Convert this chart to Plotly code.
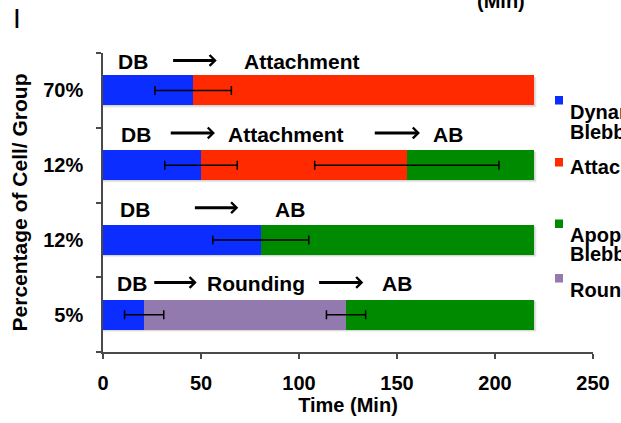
import numpy as np
import plotly.graph_objects as go

# ---- data -------------------------------------------------------------
group_labels = ["70%", "12%", "12%", "5%"]          # top to bottom
group_pos = [3, 2, 1, 0]

stage_names = ["Dynamic Blebbing", "Attachment", "Rounding", "Apoptotic Blebbing"]
stage_colors = ["#0b2dff", "#ff2a00", "#9279ae", "#008a00"]

# time spent in each stage (min); None where a group skips the stage
dynamic_blebbing = [46, 50, 80.5, 21]
attachment = [174, 105, None, None]
rounding = [None, None, None, 103]
apoptotic_blebbing = [None, 65, 139.5, 96]

# spread of the transition time at the end of each stage (min)
dynamic_blebbing_err = [19.5, 18.5, 24.5, 10]
attachment_err = [None, 47, None, None]
rounding_err = [None, None, None, 10]

# stage sequence written above every bar
flow_labels = [
    ["DB", "Attachment"],
    ["DB", "Attachment", "AB"],
    ["DB", "AB"],
    ["DB", "Rounding", "AB"],
]

x_ticks = [0, 50, 100, 150, 200, 250]

# ---- layout helpers ---------------------------------------------------
W, H = 621, 423
L, R, T, B = 103, 28, 53, 71
PW, PH = W - L - R, H - T - B
BAR_W = 0.4


def paper_x(px):
    return (px - L) / PW


def paper_y(py):
    return (H - B - py) / PH


FONT = "Liberation Sans, Arial, Helvetica, sans-serif"

fig = go.Figure()

stage_values = [dynamic_blebbing, attachment, rounding, apoptotic_blebbing]
for name, color, vals in zip(stage_names, stage_colors, stage_values):
    fig.add_trace(go.Bar(
        orientation="h", x=vals, y=group_pos, width=BAR_W, name=name,
        marker=dict(color=color, line=dict(width=0)), showlegend=False,
        hoverinfo="skip",
    ))

# error bars at the end of each stage, drawn above every bar
stage_errs = [dynamic_blebbing_err, attachment_err, rounding_err]
vals_arr = np.array([[np.nan if v is None else v for v in s] for s in stage_values])
cum = np.nancumsum(vals_arr, axis=0)
for i, errs in enumerate(stage_errs):
    xs, ys, es = [], [], []
    for g in range(len(group_pos)):
        if errs[g] is not None and stage_values[i][g] is not None:
            xs.append(cum[i, g])
            ys.append(group_pos[g])
            es.append(errs[g])
    fig.add_trace(go.Scatter(
        x=xs, y=ys, mode="markers", showlegend=False, hoverinfo="skip",
        marker=dict(size=1, color="rgba(0,0,0,0)"),
        error_x=dict(type="data", array=es, color="black", thickness=1.5, width=4.5),
    ))

shapes = []
# soft drop shadow behind every bar
totals = cum[-1]
for g, pos in enumerate(group_pos):
    for off, col in ((2.2, "#ececec"), (1.2, "#d6d6d6")):
        shapes.append(dict(
            type="rect", xref="x", yref="y", layer="below",
            x0=0, x1=totals[g] + off / 1.96,
            y0=pos - BAR_W / 2 - off / 74.75, y1=pos + BAR_W / 2 - off / 74.75,
            fillcolor=col, line=dict(width=0),
        ))

# stage sequence text and arrows above the bars
label_x = [
    [15.1, 101.5],
    [16.7, 93.3, 176.0],
    [16.5, 95.3],
    [14.9, 78.0, 149.8],
]
arrow_x = [
    [(35.0, 58.0)],
    [(33.8, 57.1), (137.9, 161.7)],
    [(46.1, 69.0)],
    [(25.4, 47.8), (109.5, 132.8)],
]
label_dy = [0.38, 0.41, 0.41, 0.41]

annotations = []
for g, pos in enumerate(group_pos):
    yv = pos + label_dy[g]
    for txt, xv in zip(flow_labels[g], label_x[g]):
        annotations.append(dict(
            x=xv, y=yv, xref="x", yref="y", text=txt, showarrow=False,
            xanchor="center", yanchor="middle",
            font=dict(family=FONT, size=21, color="black", weight="bold"),
        ))
    for x0, x1 in arrow_x[g]:
        annotations.append(dict(
            x=x1, y=yv + 0.02, ax=x0, ay=yv + 0.02, xref="x", yref="y",
            axref="x", ayref="y",
            text="", showarrow=True, arrowhead=4, arrowsize=0.7, arrowwidth=3,
            arrowcolor="black", standoff=0, startstandoff=0,
        ))

# key on the right-hand side
key_items = [
    (stage_colors[0], 96, ["Dynamic", "Blebbing"], [111.5, 131.5]),
    (stage_colors[1], 158, ["Attachment"], [167]),
    (stage_colors[3], 219.5, ["Apoptotic", "Blebbing"], [235.5, 253.5]),
    (stage_colors[2], 274, ["Rounding"], [290]),
]
for color, top, lines, centers in key_items:
    shapes.append(dict(
        type="rect", xref="paper", yref="paper",
        x0=paper_x(555), x1=paper_x(563), y0=paper_y(top + 8.5), y1=paper_y(top),
        fillcolor=color, line=dict(width=0), layer="above",
    ))
    for line, cy in zip(lines, centers):
        annotations.append(dict(
            x=paper_x(568), y=paper_y(cy), xref="paper", yref="paper", text=line,
            showarrow=False, xanchor="left", yanchor="middle",
            font=dict(family=FONT, size=20, color="black", weight="bold"),
        ))

# panel letter and neighbouring header fragment
annotations.append(dict(
    x=paper_x(17), y=paper_y(18), xref="paper", yref="paper", text="I",
    showarrow=False, xanchor="center", yanchor="middle",
    font=dict(family=FONT, size=28, color="black"),
))
annotations.append(dict(
    x=paper_x(501), y=paper_y(1), xref="paper", yref="paper", text="(Min)",
    showarrow=False, xanchor="center", yanchor="middle",
    font=dict(family=FONT, size=20, color="black", weight="bold"),
))

fig.update_layout(
    width=W, height=H,
    margin=dict(l=L, r=R, t=T, b=B, pad=0),
    barmode="stack",
    paper_bgcolor="white", plot_bgcolor="white",
    font=dict(family=FONT, color="black"),
    annotations=annotations, shapes=shapes,
    showlegend=False,
)

fig.update_xaxes(
    range=[0, 250], tickvals=x_ticks, ticktext=[str(v) for v in x_ticks],
    showgrid=False, zeroline=False, showline=True, linecolor="#4a4a4a", linewidth=1.5,
    ticks="outside", ticklen=5, tickwidth=1.5, tickcolor="#4a4a4a",
    tickfont=dict(family=FONT, size=20, color="black", weight="bold"),
    ticklabelstandoff=7,
    title=dict(text="Time (Min)", standoff=2,
               font=dict(family=FONT, size=20, color="black", weight="bold")),
)

fig.update_yaxes(
    range=[-0.5, 3.5], tickvals=group_pos, ticktext=group_labels,
    showgrid=False, zeroline=False, showline=True, linecolor="#4a4a4a", linewidth=1.5,
    ticks="", ticklabelstandoff=14,
    tickfont=dict(family=FONT, size=20, color="black", weight="bold"),
    minor=dict(tickvals=[-0.5, 0.5, 1.5, 2.5, 3.5], ticks="outside", ticklen=5,
               tickwidth=1.5, tickcolor="#4a4a4a", showgrid=False),
    title=dict(text="Percentage of Cell/ Group", standoff=10,
               font=dict(family=FONT, size=21, color="black", weight="bold")),
)

fig.write_html("out.html")
